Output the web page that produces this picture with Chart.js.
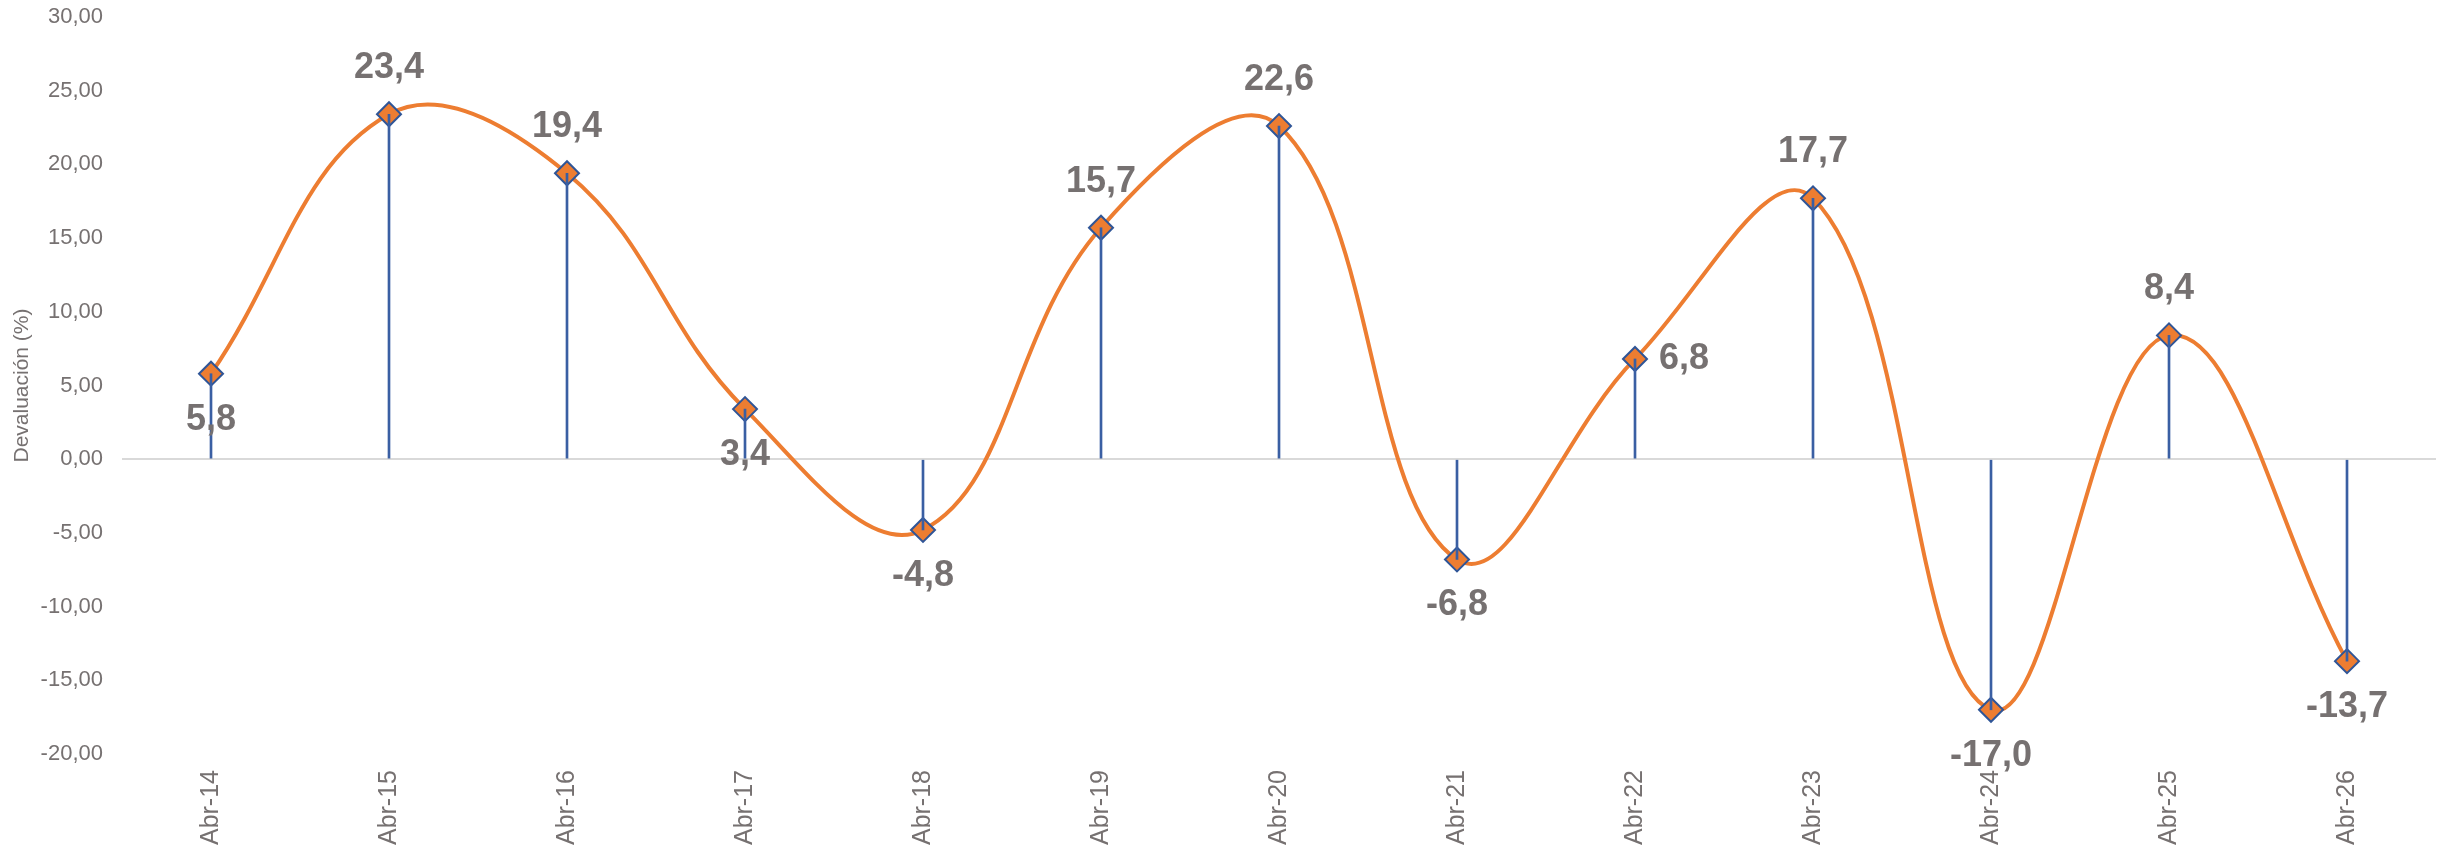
<!DOCTYPE html>
<html>
<head>
<meta charset="utf-8">
<script src="https://cdn.jsdelivr.net/npm/chart.js@4.4.1/dist/chart.umd.min.js"></script>
<style>
  html, body { margin: 0; padding: 0; background: #ffffff; }
  #wrap { width: 2450px; height: 853px; position: relative; }
</style>
</head>
<body>
<div id="wrap"><canvas id="c"></canvas></div>
<script>
const categories = ['Abr-14','Abr-15','Abr-16','Abr-17','Abr-18','Abr-19','Abr-20','Abr-21','Abr-22','Abr-23','Abr-24','Abr-25','Abr-26'];
const devaluacion = [5.8, 23.4, 19.4, 3.4, -4.8, 15.7, 22.6, -6.8, 6.8, 17.7, -17.0, 8.4, -13.7];
const labelPlacement = ['below','above','above','below','below','above','above','below','right','above','below','above','below'];
const yTitle = 'Devaluación (%)';

const TEXT_GRAY = '#767171';
const FONT = "'Liberation Sans', Arial, sans-serif";

const fmt = (v, d) => v.toFixed(d).replace('.', ',');

const dataLabelPlugin = {
  id: 'dataLabels',
  afterDatasetsDraw(chart) {
    const meta = chart.getDatasetMeta(1);
    const ctx = chart.ctx;
    ctx.save();
    ctx.font = 'bold 36px ' + FONT;
    ctx.fillStyle = TEXT_GRAY;
    ctx.textBaseline = 'middle';
    meta.data.forEach((pt, i) => {
      const txt = fmt(devaluacion[i], 1);
      const pos = labelPlacement[i];
      let x = pt.x, y = pt.y;
      if (pos === 'above') { ctx.textAlign = 'center'; y -= 46; }
      else if (pos === 'below') { ctx.textAlign = 'center'; y += 46; }
      else { ctx.textAlign = 'left'; x += 24; }
      ctx.fillText(txt, x, y);
    });
    ctx.restore();
  }
};

new Chart(document.getElementById('c'), {
  data: {
    labels: categories,
    datasets: [
      {
        type: 'bar',
        data: devaluacion,
        backgroundColor: '#3A5FA3',
        barThickness: 2,
        order: 0
      },
      {
        type: 'line',
        data: devaluacion,
        borderColor: '#ED7D31',
        borderWidth: 4,
        tension: 0.4,
        fill: false,
        pointStyle: 'rectRot',
        pointRadius: 12,
        pointBackgroundColor: '#ED7D31',
        pointBorderColor: '#2F5597',
        pointBorderWidth: 2,
        order: 1
      }
    ]
  },
  options: {
    responsive: true,
    maintainAspectRatio: false,
    animation: false,
    layout: { padding: { top: 17, right: 4, left: 0, bottom: 0 } },
    plugins: { legend: { display: false }, tooltip: { enabled: false } },
    scales: {
      x: {
        offset: true,
        grid: { display: false, drawTicks: false },
        border: { display: false },
        ticks: {
          color: TEXT_GRAY,
          font: { family: FONT, size: 25 },
          maxRotation: 90,
          minRotation: 90,
          padding: 16
        },
        afterFit(scale) { scale.height = 99; }
      },
      y: {
        min: -20,
        max: 30,
        grid: {
          drawTicks: false,
          color: ctx => (ctx.tick && ctx.tick.value === 0) ? '#D9D9D9' : 'rgba(0,0,0,0)',
          lineWidth: 2
        },
        border: { display: false },
        ticks: {
          stepSize: 5,
          color: TEXT_GRAY,
          font: { family: FONT, size: 22 },
          padding: 19,
          callback: v => fmt(v, 2)
        },
        title: {
          display: true,
          text: yTitle,
          color: TEXT_GRAY,
          font: { family: FONT, size: 21 },
          padding: { top: 10, bottom: 0 }
        },
        afterFit(scale) {
          scale.width = 122;
          scale.paddingTop = 0;
          scale.paddingBottom = 0;
        }
      }
    }
  },
  plugins: [dataLabelPlugin]
});
</script>
</body>
</html>
